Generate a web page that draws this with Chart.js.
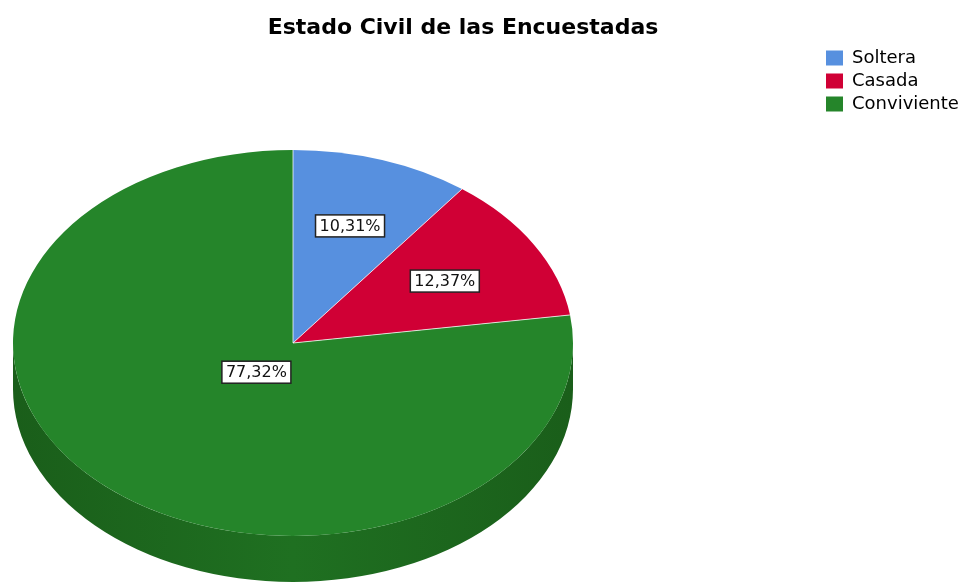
<!DOCTYPE html>
<html>
<head>
<meta charset="utf-8">
<script src="https://cdn.jsdelivr.net/npm/chart.js@4"></script>
<style>
  html, body { margin: 0; padding: 0; background: #fff; }
  #wrap { width: 960px; height: 586px; }
</style>
</head>
<body>
<div id="wrap"><canvas id="chart" width="960" height="586"></canvas></div>
<script>
const titleText = 'Estado Civil de las Encuestadas';
const categories = ['Soltera', 'Casada', 'Conviviente'];
const percentages = [10.31, 12.37, 77.32];
const sliceColors = ['#5790df', '#d00035', '#25852a'];
const sideColors = ['#3f6fb0', '#9e0028', '#1f7021'];

// where the tilted pie sits on the page
const pie = { cx: 293, cy: 343, rx: 280, ry: 193, depth: 46 };
const labelRadius = [0.64, 0.63, 0.2];

const fmt = v => v.toFixed(2).replace('.', ',') + '%';

// squash the round pie Chart.js lays out into an ellipse with a side wall
const tiltPlugin = {
    id: 'tilt',
    beforeDatasetsDraw(chart) {
        const ctx = chart.ctx;
        const arcs = chart.getDatasetMeta(0).data;
        const a0 = arcs[0];
        const R = a0.outerRadius;
        const sx = pie.rx / R, sy = pie.ry / R;
        ctx.save();
        ctx.translate(pie.cx, pie.cy);
        ctx.scale(sx, sy);
        ctx.translate(-a0.x, -a0.y);

        const d = pie.depth / sy;
        arcs.forEach((arc, i) => {
            const s = Math.max(arc.startAngle, 0);
            const e = Math.min(arc.endAngle, Math.PI);
            if (e <= s) return;
            const g = ctx.createLinearGradient(a0.x - R, 0, a0.x + R, 0);
            g.addColorStop(0, '#1a5e1a');
            g.addColorStop(0.5, sideColors[i]);
            g.addColorStop(1, '#1a5e1a');
            ctx.beginPath();
            ctx.arc(a0.x, a0.y, R, s, e);
            ctx.arc(a0.x, a0.y + d, R, e, s, true);
            ctx.closePath();
            ctx.fillStyle = i === 2 ? g : sideColors[i];
            ctx.fill();
        });
    },
    afterDatasetsDraw(chart) {
        const ctx = chart.ctx;
        ctx.restore();
        const arcs = chart.getDatasetMeta(0).data;

        // thin separators between slices
        ctx.save();
        ctx.strokeStyle = 'rgba(255,255,255,0.75)';
        ctx.lineWidth = 1;
        arcs.forEach(arc => {
            const a = arc.startAngle;
            ctx.beginPath();
            ctx.moveTo(pie.cx, pie.cy);
            ctx.lineTo(pie.cx + pie.rx * Math.cos(a), pie.cy + pie.ry * Math.sin(a));
            ctx.stroke();
        });

        // value labels in white boxes
        ctx.font = '16px "DejaVu Sans"';
        ctx.textAlign = 'center';
        ctx.textBaseline = 'middle';
        arcs.forEach((arc, i) => {
            const mid = (arc.startAngle + arc.endAngle) / 2;
            const f = labelRadius[i];
            const x = pie.cx + pie.rx * f * Math.cos(mid);
            const y = pie.cy + pie.ry * f * Math.sin(mid);
            const txt = fmt(percentages[i]);
            const w = ctx.measureText(txt).width + 8;
            const h = 22;
            ctx.fillStyle = '#fff';
            ctx.fillRect(x - w / 2, y - h / 2, w, h);
            ctx.strokeStyle = '#222';
            ctx.lineWidth = 1.5;
            ctx.strokeRect(x - w / 2, y - h / 2, w, h);
            ctx.fillStyle = '#111';
            ctx.fillText(txt, x, y + 1);
        });
        ctx.restore();
    },
    afterDraw(chart) {
        const ctx = chart.ctx;
        ctx.save();
        ctx.font = 'bold 22px "DejaVu Sans"';
        ctx.fillStyle = '#000';
        ctx.textAlign = 'center';
        ctx.textBaseline = 'alphabetic';
        ctx.fillText(titleText, 463, 34);
        ctx.restore();
    }
};

new Chart(document.getElementById('chart'), {
    type: 'pie',
    data: {
        labels: categories,
        datasets: [{
            data: percentages,
            backgroundColor: sliceColors,
            borderWidth: 0
        }]
    },
    options: {
        responsive: false,
        animation: false,
        events: [],
        layout: { padding: { top: 44 } },
        plugins: {
            legend: {
                position: 'right',
                align: 'start',
                maxWidth: 139,
                labels: {
                    boxWidth: 17,
                    boxHeight: 15,
                    padding: 5,
                    color: '#000',
                    font: { family: 'DejaVu Sans', size: 18 }
                }
            },
            tooltip: { enabled: false },
            title: { display: false }
        }
    },
    plugins: [tiltPlugin]
});
</script>
</body>
</html>
